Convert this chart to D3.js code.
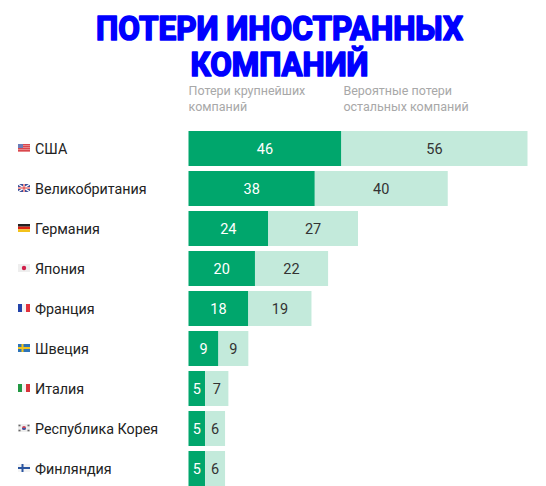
<!DOCTYPE html>
<html><head><meta charset="utf-8">
<script src="https://cdn.jsdelivr.net/npm/d3@7"></script>
<style>html,body{margin:0;padding:0;background:#fff}</style>
</head><body>
<svg id="c" width="546" height="486"></svg>
<script>
const countries = ["США","Великобритания","Германия","Япония","Франция","Швеция","Италия","Республика Корея","Финляндия"];
const flagCodes = ["us","gb","de","jp","fr","se","it","kr","fi"];
const largest = [46,38,24,20,18,9,5,5,5];
const others = [56,40,27,22,19,9,7,6,6];
const titleLines = ["ПОТЕРИ ИНОСТРАННЫХ","КОМПАНИЙ"];
const headerA = ["Потери крупнейших","компаний"];
const headerB = ["Вероятные потери","остальных компаний"];

const svg = d3.select("#c");
const font = "Roboto, 'Liberation Sans', Arial, sans-serif";

const x = d3.scaleLinear().domain([0,102]).range([188.5,527.5]);
const y = d3.scaleBand().domain(countries).range([131,486]).paddingInner(0.125).paddingOuter(0);

// title
svg.append("g").selectAll("text").data(titleLines).join("text")
  .attr("x", 279.5).attr("y", (d,i)=>39.5 + i*36.5)
  .attr("text-anchor","middle")
  .attr("font-family",font)
  .attr("font-weight","bold").attr("font-size",33)
  .attr("fill","#0000ff").attr("stroke","#0000ff").attr("stroke-width",1.7)
  .attr("stroke-linejoin","round")
  .attr("textLength",(d,i)=> i===0 ? 367 : 178)
  .attr("lengthAdjust","spacingAndGlyphs")
  .text(d=>d);

// headers: aligned with bar segment starts
function header(lines, x0){
  svg.append("g").selectAll("text").data(lines).join("text")
    .attr("x", x0).attr("y",(d,i)=>95 + i*16)
    .attr("font-family",font).attr("font-size",12.5).attr("fill","#a8a8a8")
    .text(d=>d);
}
header(headerA, x(0));
header(headerB, x(largest[0]) + 2);

const rows = countries.map((c,i)=>({c, f:flagCodes[i], a:largest[i], b:others[i]}));

const g = svg.append("g");
const row = g.selectAll("g.row").data(rows).join("g").attr("class","row");

row.append("rect").attr("x",x(0)).attr("y",d=>y(d.c))
  .attr("width",d=>x(d.a)-x(0)).attr("height",y.bandwidth()).attr("fill","#00a66c");
row.append("rect").attr("x",d=>x(d.a)).attr("y",d=>y(d.c))
  .attr("width",d=>x(d.a+d.b)-x(d.a)).attr("height",y.bandwidth()).attr("fill","#c3eadb");

row.append("text").attr("x",d=>(x(0)+x(d.a))/2).attr("y",d=>y(d.c)+y.bandwidth()/2)
  .attr("dy","0.36em").attr("text-anchor","middle")
  .attr("font-family",font).attr("font-size",14.5).attr("fill","#ffffff").text(d=>d.a);
row.append("text").attr("x",d=>(x(d.a)+x(d.a+d.b))/2).attr("y",d=>y(d.c)+y.bandwidth()/2)
  .attr("dy","0.36em").attr("text-anchor","middle")
  .attr("font-family",font).attr("font-size",14.5).attr("fill","#333333").text(d=>d.b);

row.append("text").attr("x",35).attr("y",d=>y(d.c)+y.bandwidth()/2)
  .attr("dy","0.36em").attr("font-family",font).attr("font-size",14.3).attr("fill","#222")
  .text(d=>d.c);

// flags (decorative icons)
const fw=12, fh=8;
row.each(function(d){
  const fg = d3.select(this).append("g")
    .attr("transform",`translate(18,${y(d.c)+y.bandwidth()/2-fh/2-0.5})`);
  const r=(x0,y0,w,h,c)=>fg.append("rect").attr("x",x0).attr("y",y0).attr("width",w).attr("height",h).attr("fill",c);
  switch(d.f){
    case "us": r(0,0,fw,fh,"#e8878a"); for(let k=0;k<4;k++) r(0,k*2,fw,1,"#d9474d"); r(0,0,5,4,"#6c7db8"); break;
    case "gb": r(0,0,fw,fh,"#3b4f9a"); fg.append("path").attr("d",`M0,0L${fw},${fh}M${fw},0L0,${fh}`).attr("stroke","#fff").attr("stroke-width",1.5);
      r(0,3,fw,2,"#fff"); r(5,0,2,fh,"#fff"); r(0,3.5,fw,1,"#d33"); r(5.5,0,1,fh,"#d33"); break;
    case "de": r(0,0,fw,fh/3,"#222"); r(0,fh/3,fw,fh/3,"#dd2211"); r(0,2*fh/3,fw,fh/3,"#f3c21b"); break;
    case "jp": r(0,0,fw,fh,"#eeeeee"); fg.append("circle").attr("cx",6).attr("cy",4).attr("r",2.2).attr("fill","#d0204a"); break;
    case "fr": r(0,0,4,fh,"#2244aa"); r(4,0,4,fh,"#f4f4f4"); r(8,0,4,fh,"#e2323c"); break;
    case "se": r(0,0,fw,fh,"#2e74b8"); r(0,3,fw,2,"#f2c51c"); r(3.5,0,2,fh,"#f2c51c"); break;
    case "it": r(0,0,4,fh,"#229944"); r(4,0,4,fh,"#f4f4f4"); r(8,0,4,fh,"#d8333a"); break;
    case "kr": r(0,0,fw,fh,"#eeeeee"); fg.append("circle").attr("cx",6).attr("cy",4).attr("r",2).attr("fill","#c5435a");
      fg.append("path").attr("d","M6,4m-2,0a2,2 0 0,0 4,0z").attr("fill","#3a58a8");
      [[1.5,1.5],[10.5,1.5],[1.5,6.5],[10.5,6.5]].forEach(p=>r(p[0]-1,p[1]-0.8,2,1.6,"#666")); break;
    case "fi": r(0,0,fw,fh,"#f4f4f4"); r(0,3,fw,2,"#2a55a0"); r(3.5,0,2,fh,"#2a55a0"); break;
  }
});
</script>
</body></html>
